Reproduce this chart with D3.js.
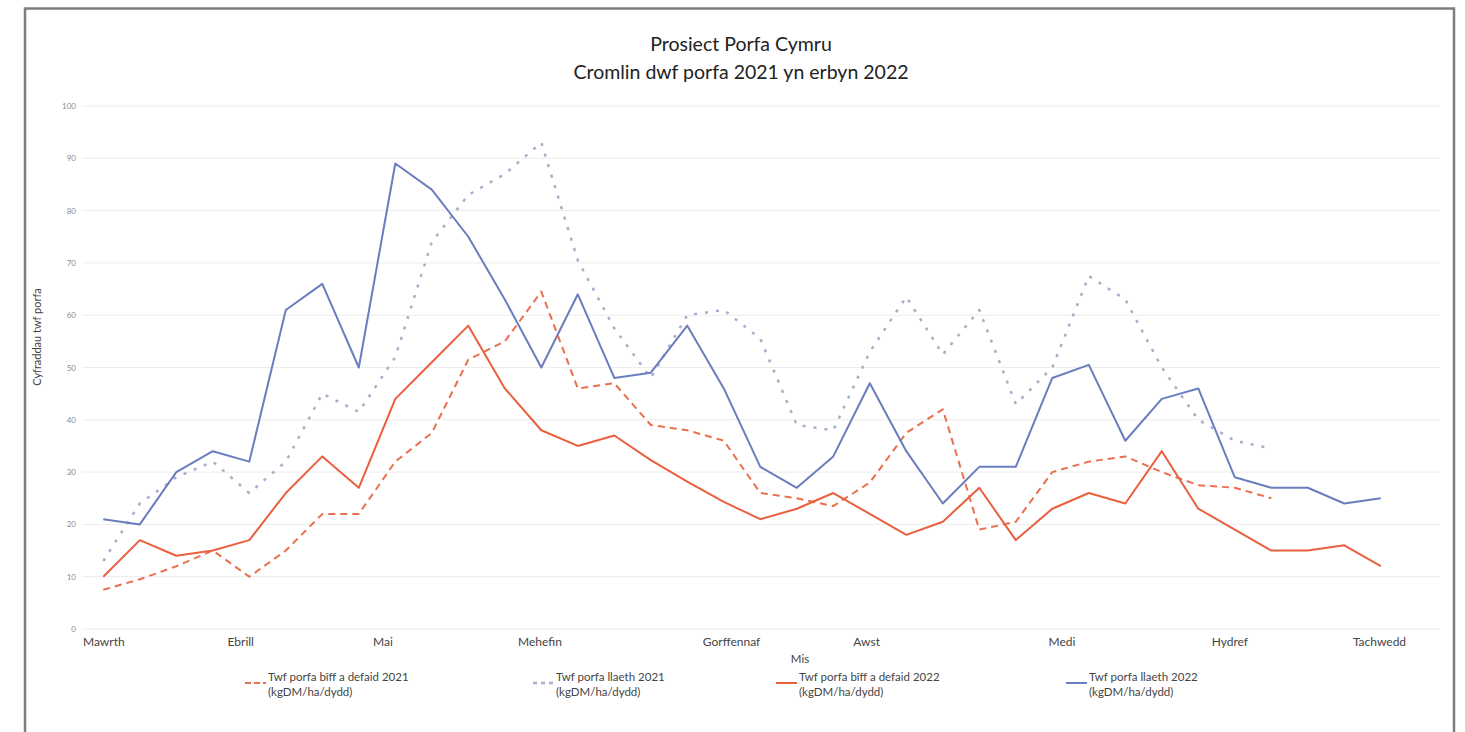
<!DOCTYPE html>
<html>
<head>
<meta charset="utf-8">
<script src="https://cdn.jsdelivr.net/npm/d3@7"></script>
<style>
  html, body { margin: 0; padding: 0; background: #fff; }
  svg { display: block; font-family: Lato, "Open Sans", sans-serif; }
</style>
</head>
<body>
<svg id="chart" width="1465" height="732"></svg>
<script>
// ---- data ----
const titleLines = ["Prosiect Porfa Cymru", "Cromlin dwf porfa 2021 yn erbyn 2022"];
const yTitle = "Cyfraddau twf porfa";
const xTitle = "Mis";
const yTicks = [0, 10, 20, 30, 40, 50, 60, 70, 80, 90, 100];
const monthLabels = ["Mawrth", "Ebrill", "Mai", "Mehefin", "Gorffennaf", "Awst", "Medi", "Hydref", "Tachwedd"];
const monthWeek = [0, 3.75, 7.65, 11.95, 17.2, 20.9, 26.25, 30.85, 34.95];
const weeks = d3.range(36);

const beefSheep2021 = [7.5, 9.5, 12, 15, 10, 15, 22, 22, 32, 37.5, 51.5, 55, 64.5, 46, 47, 39, 38, 36, 26, 25, 23.5, 28, 37.5, 42, 19, 20.5, 30, 32, 33, 30, 27.5, 27, 25, null, null, null];
const dairy2021 = [13, 24, 29, 32, 26, 32, 45, 41.5, 52, 74, 83, 87, 93, 70.5, 57.5, 48, 60, 61, 55.5, 39, 38, 53, 63.5, 52.5, 61, 43, 50, 67.5, 63, 50, 40, 36, 34.5, null, null, null];
const beefSheep2022 = [10, 17, 14, 15, 17, 26, 33, 27, 44, 51, 58, 46, 38, 35, 37, 32.3, 28.2, 24.3, 21, 23, 26, 22, 18, 20.5, 27, 17, 23, 26, 24, 34, 23, 19, 15, 15, 16, 12];
const dairy2022 = [21, 20, 30, 34, 32, 61, 66, 50, 89, 84, 75, 63, 50, 64, 48, 49, 58, 46, 31, 27, 33, 47, 34, 24, 31, 31, 48, 50.5, 36, 44, 46, 29, 27, 27, 24, 25];

const seriesNames = [
  ["Twf porfa bîff a defaid 2021", "(kgDM/ha/dydd)"],
  ["Twf porfa llaeth 2021", "(kgDM/ha/dydd)"],
  ["Twf porfa bîff a defaid 2022", "(kgDM/ha/dydd)"],
  ["Twf porfa llaeth 2022", "(kgDM/ha/dydd)"]
];

// ---- styles ----
const styles = [
  { color: "#e8704f", width: 2, dash: "7,5" },
  { color: "#a7aecb", width: 2.5, dash: "3,8" },
  { color: "#ea5f3e", width: 2, dash: null },
  { color: "#6a7dbd", width: 2, dash: null }
];
const seriesData = [beefSheep2021, dairy2021, beefSheep2022, dairy2022];

const svg = d3.select("#chart");

// outer frame
svg.append("rect").attr("x", 25).attr("y", 8.5).attr("width", 1429).attr("height", 760)
  .attr("fill", "#fff").attr("stroke", "#7d7d7d").attr("stroke-width", 2.5);

const x = d3.scaleLinear().domain([0, 35]).range([103.3, 1380.8]);
const y = d3.scaleLinear().domain([0, 100]).range([629, 106]);

// gridlines
svg.append("g").selectAll("line").data(yTicks).join("line")
  .attr("x1", 82).attr("x2", 1440)
  .attr("y1", d => y(d)).attr("y2", d => y(d))
  .attr("stroke", "#ececec").attr("stroke-width", 1);

// y axis
const yAxis = svg.append("g").attr("transform", "translate(76,0)")
  .call(d3.axisLeft(y).tickValues(yTicks).tickSize(0).tickPadding(0));
yAxis.select(".domain").remove();
yAxis.selectAll("text").attr("fill", "#8a8a8a").style("font-size", "8px")
  .style("font-family", "Lato, sans-serif");

// x axis (month labels)
const xAxis = svg.append("g").attr("transform", "translate(0,637)")
  .call(d3.axisBottom(x).tickValues(monthWeek).tickFormat((d, i) => monthLabels[i]).tickSize(0).tickPadding(0));
xAxis.select(".domain").remove();
xAxis.selectAll("text").attr("fill", "#444").style("font-size", "12px")
  .style("font-family", "Lato, sans-serif");

// axis titles
svg.append("text").attr("transform", "translate(41,337) rotate(-90)")
  .attr("text-anchor", "middle").attr("fill", "#444").style("font-size", "11px")
  .text(yTitle);
svg.append("text").attr("x", 800).attr("y", 663).attr("text-anchor", "middle")
  .attr("fill", "#444").style("font-size", "11.5px").text(xTitle);

// title
svg.append("g").selectAll("text").data(titleLines).join("text")
  .attr("x", 741).attr("y", (d, i) => 51 + i * 28)
  .attr("text-anchor", "middle").attr("fill", "#222")
  .style("font-size", "19.5px").text(d => d);

// lines
const line = d3.line().defined(d => d != null).x((d, i) => x(weeks[i])).y(d => y(d));
svg.append("g").selectAll("path").data(seriesData).join("path")
  .attr("d", d => line(d))
  .attr("fill", "none")
  .attr("stroke", (d, i) => styles[i].color)
  .attr("stroke-width", (d, i) => styles[i].width)
  .attr("stroke-dasharray", (d, i) => styles[i].dash)
  .attr("stroke-linejoin", "round");

// legend
const legendX = [245, 533, 776, 1066];
const lg = svg.append("g").selectAll("g").data(seriesNames).join("g")
  .attr("transform", (d, i) => `translate(${legendX[i]},683)`);
lg.append("line").attr("x1", 0).attr("x2", 21).attr("y1", 0).attr("y2", 0)
  .attr("stroke", (d, i) => styles[i].color)
  .attr("stroke-width", (d, i) => styles[i].width)
  .attr("stroke-dasharray", (d, i) => styles[i].dash ? (i === 1 ? "4,4" : "6,3") : null);
lg.each(function(d) {
  const t = d3.select(this).append("text").attr("x", 23).attr("fill", "#444").style("font-size", "11.5px");
  t.append("tspan").attr("x", 23).attr("y", -2).text(d[0]);
  t.append("tspan").attr("x", 23).attr("y", 13).text(d[1]);
});
</script>
</body>
</html>
